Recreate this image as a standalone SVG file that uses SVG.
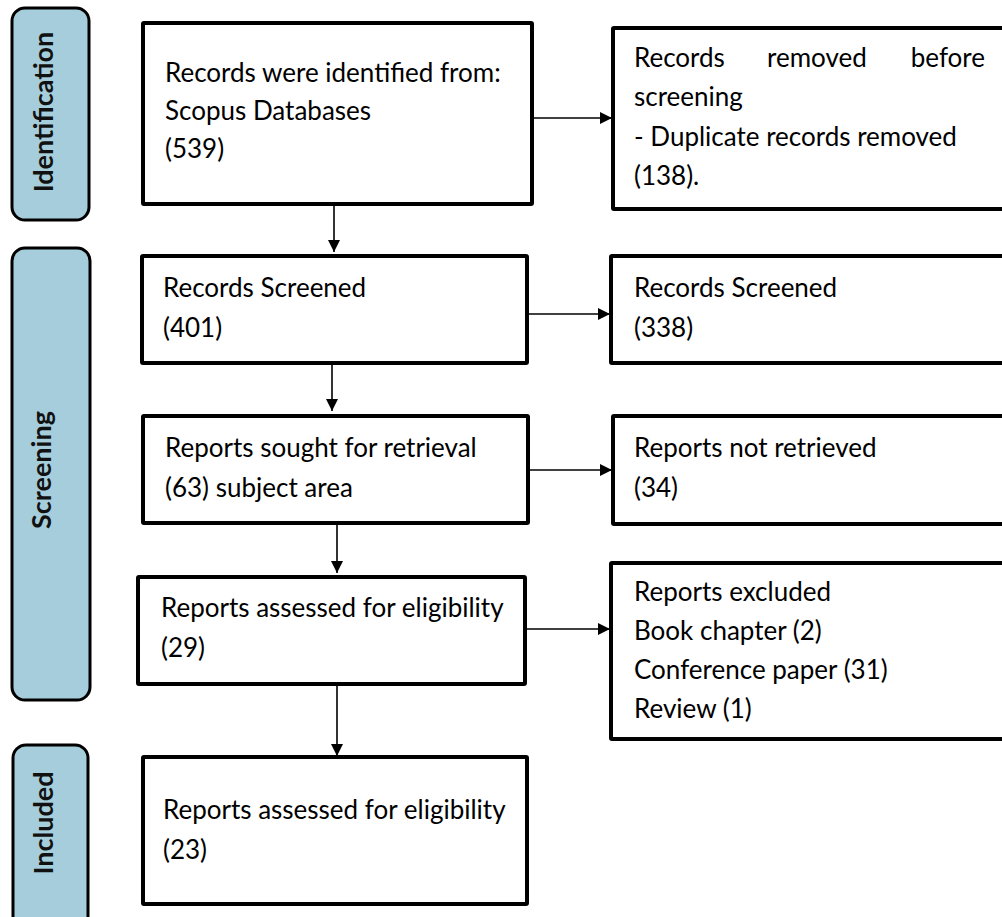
<svg xmlns="http://www.w3.org/2000/svg" width="1002" height="917" viewBox="0 0 1002 917">
<style>
.box{fill:#fff;stroke:#000;stroke-width:4;}
.bar{fill:#A5CDDB;stroke:#000;stroke-width:3;}
.t{font-family:Lato,"Open Sans","Liberation Sans",sans-serif;font-size:26px;fill:#000;}
.bt{font-family:Lato,"Open Sans","Liberation Sans",sans-serif;font-size:27px;font-weight:bold;fill:#111;text-anchor:middle;}
.c{stroke:#000;stroke-width:1.6;fill:none;marker-end:url(#ah);}
</style>
<defs>
<marker id="ah" markerUnits="userSpaceOnUse" markerWidth="14" markerHeight="14" refX="12" refY="6" orient="auto">
<path d="M0,0 L12,6 L0,12 Z" fill="#000"/>
</marker>
</defs>
<rect width="1002" height="917" fill="#fff"/>
<g id="phase-identification">
<rect class="bar" x="12" y="8" width="77" height="212" rx="13"/>
<text class="bt" transform="translate(53,112) rotate(-90)">Identification</text>
</g>
<g id="phase-screening">
<rect class="bar" x="12" y="248" width="78" height="452" rx="13"/>
<text class="bt" transform="translate(51,470) rotate(-90)">Screening</text>
</g>
<g id="phase-included">
<rect class="bar" x="13" y="745" width="75" height="190" rx="13"/>
<text class="bt" transform="translate(53,823) rotate(-90)">Included</text>
</g>
<g id="connectors">
<line class="c" x1="528" y1="118" x2="612" y2="118"/>
<line class="c" x1="334" y1="204" x2="334" y2="252"/>
<line class="c" x1="528" y1="314" x2="610" y2="314"/>
<line class="c" x1="332" y1="363" x2="332" y2="411"/>
<line class="c" x1="530" y1="470" x2="612" y2="470"/>
<line class="c" x1="337" y1="523" x2="337" y2="573"/>
<line class="c" x1="525" y1="629" x2="610" y2="629"/>
<line class="c" x1="337" y1="684" x2="337" y2="756"/>
</g>
<g id="n-identified">
<rect class="box" x="143" y="23" width="389" height="181" rx="1"/>
<text class="t" x="165" y="82">Records were identified from:</text>
<text class="t" x="165" y="120">Scopus Databases</text>
<text class="t" x="165" y="158">(539)</text>
</g>
<g id="n-removed">
<rect class="box" x="613" y="28" width="400" height="181" rx="1"/>
<text class="t" x="634" y="67">Records</text>
<text class="t" x="767" y="67">removed</text>
<text class="t" x="985" y="67" text-anchor="end">before</text>
<text class="t" x="634" y="106">screening</text>
<text class="t" x="634" y="146">- Duplicate records removed</text>
<text class="t" x="634" y="185">(138).</text>
</g>
<g id="n-screened">
<rect class="box" x="142" y="256" width="385" height="107" rx="1"/>
<text class="t" x="163" y="297">Records Screened</text>
<text class="t" x="163" y="337">(401)</text>
</g>
<g id="n-screened-excluded">
<rect class="box" x="611" y="256" width="400" height="107" rx="1"/>
<text class="t" x="634" y="297">Records Screened</text>
<text class="t" x="634" y="337">(338)</text>
</g>
<g id="n-sought">
<rect class="box" x="143" y="416" width="385" height="107" rx="1"/>
<text class="t" x="165" y="457">Reports sought for retrieval</text>
<text class="t" x="165" y="497">(63) subject area</text>
</g>
<g id="n-not-retrieved">
<rect class="box" x="613" y="416" width="400" height="108" rx="1"/>
<text class="t" x="634" y="457">Reports not retrieved</text>
<text class="t" x="634" y="497">(34)</text>
</g>
<g id="n-assessed">
<rect class="box" x="138" y="577" width="387" height="107" rx="1"/>
<text class="t" x="161" y="617">Reports assessed for eligibility</text>
<text class="t" x="161" y="657">(29)</text>
</g>
<g id="n-excluded">
<rect class="box" x="611" y="563" width="400" height="176" rx="1"/>
<text class="t" x="634" y="601">Reports excluded</text>
<text class="t" x="634" y="640">Book chapter (2)</text>
<text class="t" x="634" y="679">Conference paper (31)</text>
<text class="t" x="634" y="718">Review (1)</text>
</g>
<g id="n-included">
<rect class="box" x="143" y="757" width="384" height="147" rx="1"/>
<text class="t" x="163" y="819">Reports assessed for eligibility</text>
<text class="t" x="163" y="859">(23)</text>
</g>
</svg>
